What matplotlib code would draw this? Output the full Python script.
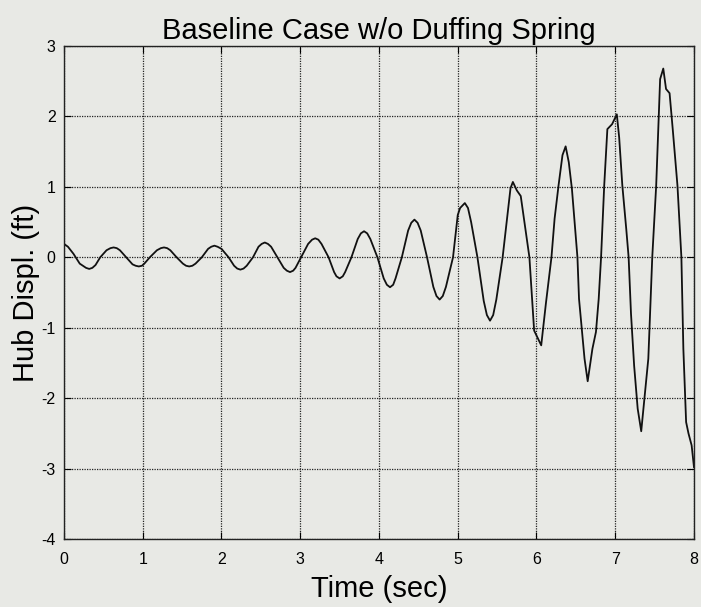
import matplotlib
matplotlib.use('Agg')
import matplotlib.pyplot as plt

# hub displacement (time in sec, displ. in ft)
time_sec = [0.00, 0.05, 0.12, 0.20, 0.28, 0.32, 0.36, 0.40, 0.46, 0.54,
            0.59, 0.63, 0.67, 0.71, 0.79, 0.87, 0.91, 0.95, 0.99, 1.02,
            1.09, 1.18, 1.23, 1.27, 1.31, 1.35, 1.43, 1.51, 1.55, 1.59,
            1.63, 1.67, 1.75, 1.83, 1.87, 1.91, 1.95, 2.00, 2.09, 2.16,
            2.20, 2.24, 2.28, 2.32, 2.40, 2.47, 2.51, 2.55, 2.59, 2.63,
            2.71, 2.79, 2.83, 2.87, 2.91, 2.94, 3.01, 3.10, 3.15, 3.19,
            3.23, 3.27, 3.36, 3.43, 3.46, 3.50, 3.54, 3.57, 3.65, 3.73,
            3.77, 3.81, 3.85, 3.89, 3.98, 4.06, 4.10, 4.14, 4.18, 4.21,
            4.29, 4.37, 4.41, 4.45, 4.49, 4.53, 4.61, 4.69, 4.73, 4.77,
            4.81, 4.85, 4.94, 5.00, 5.03, 5.09, 5.13, 5.17, 5.25, 5.33,
            5.37, 5.41, 5.45, 5.49, 5.57, 5.63, 5.67, 5.70, 5.75, 5.80,
            5.91, 5.97, 6.06, 6.12, 6.19, 6.23, 6.28, 6.33, 6.37, 6.41,
            6.45, 6.52, 6.54, 6.61, 6.65, 6.71, 6.755, 6.79, 6.82, 6.86,
            6.90, 6.96, 7.02, 7.05, 7.09, 7.14, 7.17, 7.20, 7.24, 7.285,
            7.33, 7.37, 7.42, 7.45, 7.47, 7.52, 7.57, 7.61, 7.645, 7.69,
            7.73, 7.79, 7.84, 7.865, 7.90, 7.93, 7.97, 8.00]
hub_displ = [0.19, 0.15, 0.05, -0.09, -0.15, -0.165, -0.15, -0.11, 0.00, 0.10,
             0.13, 0.14, 0.13, 0.10, 0.00, -0.10, -0.12, -0.13, -0.12, -0.09,
             0.00, 0.10, 0.13, 0.14, 0.13, 0.10, 0.00, -0.09, -0.12, -0.13,
             -0.12, -0.09, 0.00, 0.12, 0.15, 0.165, 0.15, 0.12, 0.00, -0.12,
             -0.16, -0.175, -0.16, -0.12, 0.00, 0.15, 0.19, 0.21, 0.19, 0.15,
             0.00, -0.15, -0.19, -0.21, -0.19, -0.15, 0.00, 0.19, 0.25, 0.27,
             0.25, 0.19, 0.00, -0.21, -0.27, -0.30, -0.27, -0.21, 0.00, 0.26,
             0.34, 0.37, 0.34, 0.26, 0.00, -0.30, -0.39, -0.425, -0.39, -0.30,
             0.00, 0.38, 0.49, 0.535, 0.49, 0.38, 0.00, -0.42, -0.55, -0.60,
             -0.55, -0.42, 0.00, 0.60, 0.70, 0.77, 0.70, 0.50, 0.00, -0.62,
             -0.82, -0.90, -0.82, -0.60, 0.00, 0.59, 0.98, 1.07, 0.95, 0.87,
             0.00, -1.04, -1.25, -0.65, 0.00, 0.55, 1.02, 1.45, 1.575, 1.35,
             0.97, 0.00, -0.59, -1.44, -1.76, -1.30, -1.06, -0.59, 0.00, 1.02,
             1.82, 1.89, 2.03, 1.70, 1.02, 0.40, 0.00, -0.80, -1.54, -2.15,
             -2.47, -2.01, -1.44, -0.59, 0.00, 1.02, 2.53, 2.68, 2.39, 2.33,
             1.82, 1.02, 0.00, -1.30, -2.34, -2.50, -2.67, -2.98]

x_ticks = [0, 1, 2, 3, 4, 5, 6, 7, 8]
y_ticks = [-4, -3, -2, -1, 0, 1, 2, 3]

bg = '#e8e9e5'
plt.rcParams['font.family'] = ['Liberation Sans', 'DejaVu Sans']
plt.rcParams['axes.unicode_minus'] = False

fig = plt.figure(figsize=(7.01, 6.07), dpi=100, facecolor=bg)
ax = fig.add_axes([0.0913, 0.112, 0.8987, 0.8122], facecolor=bg)

ax.plot(time_sec, hub_displ, color='#111111', linewidth=1.3)

ax.set_xlim(0, 8)
ax.set_ylim(-4, 3)
ax.set_xticks(x_ticks)
ax.set_yticks(y_ticks)
ax.grid(True, color='#222222', linestyle=(0, (1, 1)), linewidth=0.9)
ax.tick_params(direction='in', length=5, width=0.8, labelsize=11.5,
               top=True, right=True)
ax.tick_params(axis='x', pad=9)
ax.tick_params(axis='y', pad=6)
for s in ax.spines.values():
    s.set_linewidth(1.0)
    s.set_color('#222222')

ax.set_title('Baseline Case w/o Duffing Spring', fontsize=21, pad=5)
ax.set_xlabel('Time (sec)', fontsize=21, labelpad=6)
ax.set_ylabel('Hub Displ. (ft)', fontsize=21, labelpad=1)

fig.savefig('out.png', dpi=100, facecolor=bg)
